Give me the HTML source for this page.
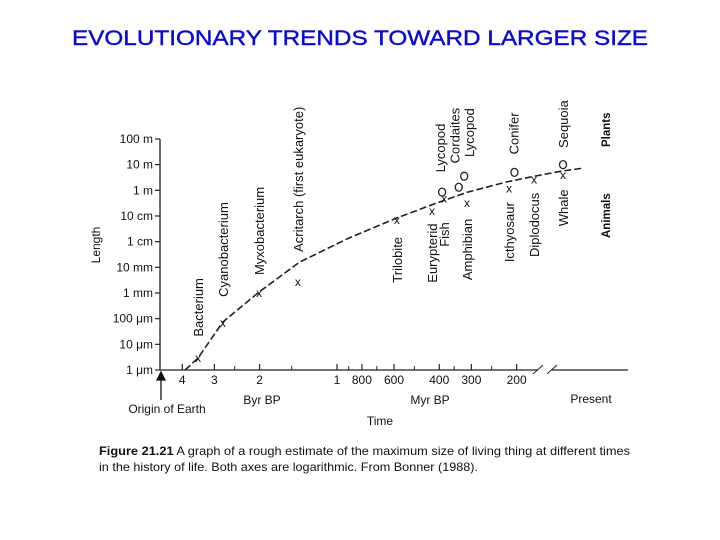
<!DOCTYPE html>
<html><head><meta charset="utf-8"><style>
body{margin:0;background:#fff;}
svg{display:block;font-family:"Liberation Sans",Arial,sans-serif;}
</style></head><body>
<svg id="chart" width="720" height="540" viewBox="0 0 720 540">
<text x="360" y="45" text-anchor="middle" font-size="21" fill="#0a0ad0" stroke="#0a0ad0" stroke-width="0.4" textLength="576" lengthAdjust="spacingAndGlyphs">EVOLUTIONARY TRENDS TOWARD LARGER SIZE</text>
<g id="plot"></g>
<text x="99" y="455" font-size="12" fill="#111" textLength="531" lengthAdjust="spacingAndGlyphs"><tspan font-weight="bold">Figure 21.21</tspan>  A graph of a rough estimate of the maximum size of living thing at different times</text>
<text x="99" y="471" font-size="12" fill="#111" textLength="379" lengthAdjust="spacingAndGlyphs">in the history of life. Both axes are logarithmic. From Bonner (1988).</text>
</svg>
<script>
// ---- data ----
const yTickLabels = ["1 \u03bcm","10 \u03bcm","100 \u03bcm","1 mm","10 mm","1 cm","10 cm","1 m","10 m","100 m"];
const xTickValues = [4,3,2,1,0.8,0.6,0.4,0.3,0.2]; // Byr BP
const xTickLabels = ["4","3","2","1","800","600","400","300","200"];
const xMinorTicks = [2.5,1.5,0.9,0.7,0.5,0.35,0.25];
const animalNames = ["Bacterium","Cyanobacterium","Myxobacterium","Acritarch (first eukaryote)","Trilobite","Eurypterid","Fish","Amphibian","Icthyosaur","Diplodocus","Whale"];
const animalTimes = [3.47,2.78,2.01,1.42,0.585,0.427,0.383,0.312,0.214,0.171,0.132];
const animalSizes = [0.47,1.83,3.0,3.42,5.84,6.19,6.69,6.5,7.08,7.43,7.59]; // in tick-level units
const animalLabelBottom = [1.3,2.85,3.7,4.6,3.4,3.4,4.8,3.5,4.2,4.4,5.6];
const plantNames = ["Lycopod","Cordaites","Lycopod","Conifer","Sequoia"];
const plantTimes = [0.39,0.336,0.32,0.204,0.132];
const plantSizes = [6.93,7.12,7.55,7.7,8.0];
const plantLabelBottom = [7.7,8.05,8.3,8.4,8.65];
const trendTimes = [3.9,3.47,2.78,2.01,1.4,0.9,0.59,0.41,0.31,0.22,0.178,0.135,0.111];
const trendSizes = [0,0.47,1.87,3.04,4.2,5.14,5.91,6.5,6.93,7.32,7.51,7.74,7.86];

// ---- layout (px nudges for rotated labels, not data) ----
const plantLabelShift = [-2,-4,5,-1,0];

// ---- axes ----
const X0=337, PXDEC=257, Y0=370, PXLVL=25.67;
const xs = t => X0 - PXDEC*Math.log10(t);
const ys = v => Y0 - PXLVL*v;
const NS="http://www.w3.org/2000/svg";
const plot=document.getElementById('plot');
function mk(tag,attrs,parent){const e=document.createElementNS(NS,tag);for(const k in attrs)e.setAttribute(k,attrs[k]);(parent||plot).appendChild(e);return e;}
function txt(s,x,y,size,extra,parent){const e=mk('text',Object.assign({x:x,y:y,'font-size':size,fill:'#111'},extra||{}),parent);e.textContent=s;return e;}

let e;
e=mk('line',{x1:160,y1:ys(9),x2:160,y2:Y0,stroke:'#222','stroke-width':1.3});


e=mk('polyline',{points:`160,${Y0} 538,${Y0}`,fill:'none',stroke:'#222','stroke-width':1.3});


e=mk('line',{x1:552,y1:Y0,x2:628,y2:Y0,stroke:'#222','stroke-width':1.3});


e=mk('path',{d:`M533,${Y0+4} L543,${Y0-5} M547,${Y0+4} L557,${Y0-5}`,stroke:'#222','stroke-width':1,fill:'none'});



yTickLabels.forEach((l,i)=>{
  const y=ys(i);
  const t=mk('line',{x1:155,y1:y,x2:160,y2:y,stroke:'#222','stroke-width':1.2});
  
  
  const lb=txt(l,153,y+4,12,{'text-anchor':'end'});
  
  
});
xTickValues.forEach((v,i)=>{
  const x=xs(v);
  const t=mk('line',{x1:x,y1:Y0-6,x2:x,y2:Y0,stroke:'#222','stroke-width':1.2});
  
  
  const lb=txt(xTickLabels[i],x,Y0+14,12,{'text-anchor':'middle'});
  
  
});
xMinorTicks.forEach(v=>{
  const t=mk('line',{x1:xs(v),y1:Y0-4,x2:xs(v),y2:Y0,stroke:'#222','stroke-width':1});
  
  
});

// trend line
const pts=trendTimes.map((t,i)=>xs(t).toFixed(1)+','+ys(trendSizes[i]).toFixed(1)).join(' ');
e=mk('polyline',{points:pts,fill:'none',stroke:'#222','stroke-width':1.6,'stroke-dasharray':'7,3'});



animalNames.forEach((n,i)=>{
  const x=xs(animalTimes[i]), y=ys(animalSizes[i]);
  const m=txt('x',x,y+4,12,{'text-anchor':'middle'});
  
  
  const yl=ys(animalLabelBottom[i]);
  const lb=txt(n,0,0,13,{transform:`translate(${x+5},${yl}) rotate(-90)`});
  
  
});
plantNames.forEach((n,i)=>{
  const x=xs(plantTimes[i]), y=ys(plantSizes[i]);
  const c=mk('ellipse',{cx:x,cy:y,rx:3.5,ry:4,fill:'none',stroke:'#222','stroke-width':1.3});
  
  
  const lb=txt(n,0,0,13,{transform:`translate(${x+5+plantLabelShift[i]},${ys(plantLabelBottom[i])}) rotate(-90)`});
  
  
});

const st=[["Length",100,245,12,{transform:'translate(100,245) rotate(-90)','text-anchor':'middle'},'y-axis-title'],
 ["Plants",0,0,11.5,{transform:'translate(610,147) rotate(-90)','font-weight':'bold'},'legend-plants'],
 ["Animals",0,0,11.5,{transform:'translate(610,238) rotate(-90)','font-weight':'bold'},'legend-animals'],
 ["Byr BP",262,404,12,{'text-anchor':'middle'},'x-axis-unit-byr'],
 ["Myr BP",430,404,12,{'text-anchor':'middle'},'x-axis-unit-myr'],
 ["Present",591,403,12,{'text-anchor':'middle'},'present-label'],
 ["Time",380,425,12,{'text-anchor':'middle'},'x-axis-title'],
 ["Origin of Earth",167,413,12,{'text-anchor':'middle'},'origin-label']];
st.forEach(s=>{const t=s[4].transform?txt(s[0],0,0,s[3],s[4]):txt(s[0],s[1],s[2],s[3],s[4]);
  
  });
e=mk('path',{d:'M161,400 L161,378 M157,380 L161,372 L165,380 Z',stroke:'#111','stroke-width':1.3,fill:'#111'});


</script>
</body></html>
